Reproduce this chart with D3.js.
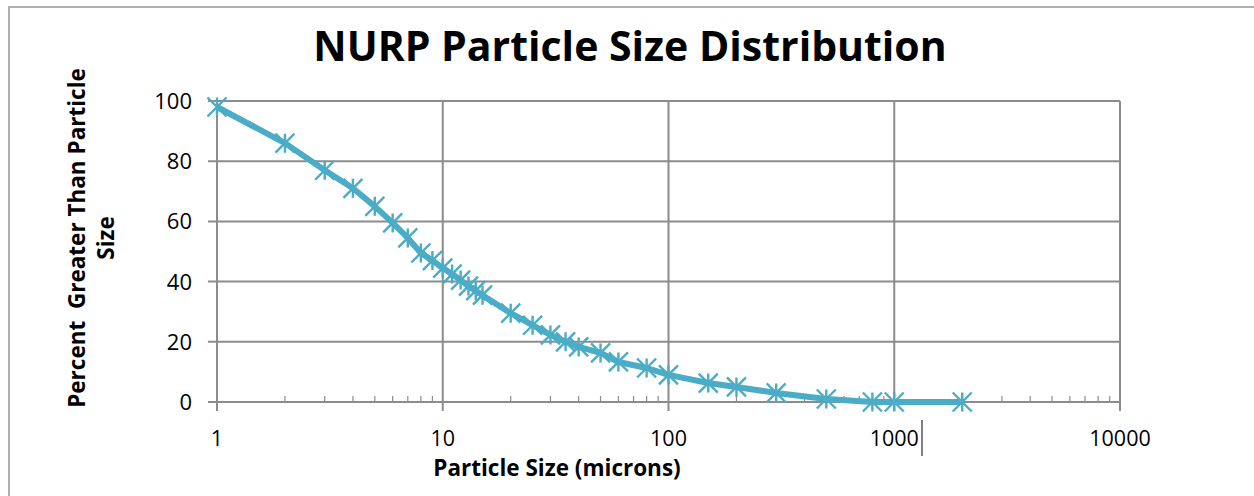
<!DOCTYPE html>
<html>
<head>
<meta charset="utf-8">
<script src="https://cdn.jsdelivr.net/npm/d3@7"></script>
<style>
  body { margin: 0; background: #fff; }
  svg { display: block; }
  text { font-family: "Open Sans", Lato, sans-serif; fill: #000; }
</style>
</head>
<body>
<svg id="chart" width="1254" height="496"></svg>
<script>
// particle size (microns) vs percent greater than that size
var sizes = [1, 2, 3, 4, 5, 6, 7, 8, 9, 10, 11, 12, 13, 14, 15, 20, 25, 30, 35, 40, 50, 60, 80, 100, 150, 200, 300, 500, 800, 1000, 2000];
var percents = [98, 86, 77, 71, 65, 59.5, 54.5, 49.5, 47, 44.5, 42.5, 40.5, 38.5, 37, 35.5, 29.5, 25.5, 22.3, 20, 18.3, 16.3, 13.3, 11.3, 9, 6.3, 5, 3, 1, 0, 0, 0];
var xTicks = [1, 10, 100, 1000, 10000];
var yTicks = [0, 20, 40, 60, 80, 100];

var svg = d3.select('#chart');
var plotL = 217, plotR = 1120, plotT = 101, plotB = 402;
var teal = '#4bacc6', grid = '#8c8c8c';

var x = d3.scaleLog().domain([1, 10000]).range([plotL, plotR]);
var y = d3.scaleLinear().domain([0, 100]).range([plotB, plotT]);

// outer frame (only top and left visible)
svg.append('path')
  .attr('d', 'M9,496V7H1254')
  .attr('fill', 'none')
  .attr('stroke', '#b0b0b0')
  .attr('stroke-width', 2);

svg.append('text')
  .attr('x', 630)
  .attr('y', 61)
  .attr('text-anchor', 'middle')
  .style('font-size', '41px')
  .style('font-weight', 'bold')
  .text('NURP Particle Size Distribution');

// horizontal gridlines, sticking out left like ticks
svg.append('g')
  .selectAll('line')
  .data(yTicks)
  .enter()
  .append('line')
  .attr('x1', plotL - 9)
  .attr('x2', plotR)
  .attr('y1', function(d) { return y(d); })
  .attr('y2', function(d) { return y(d); })
  .attr('stroke', grid)
  .attr('stroke-width', 2);

// vertical gridlines at each decade
svg.append('g')
  .selectAll('line')
  .data(xTicks)
  .enter()
  .append('line')
  .attr('x1', function(d) { return x(d); })
  .attr('x2', function(d) { return x(d); })
  .attr('y1', plotT)
  .attr('y2', plotB + 9)
  .attr('stroke', grid)
  .attr('stroke-width', 2);

// minor ticks pointing up from the axis
var minor = x.ticks().filter(function(d) { return xTicks.indexOf(d) < 0; });
svg.append('g')
  .selectAll('line')
  .data(minor)
  .enter()
  .append('line')
  .attr('x1', function(d) { return x(d); })
  .attr('x2', function(d) { return x(d); })
  .attr('y1', plotB)
  .attr('y2', plotB - 6)
  .attr('stroke', grid)
  .attr('stroke-width', 1.2);

svg.append('g')
  .selectAll('text')
  .data(yTicks)
  .enter()
  .append('text')
  .attr('x', 192)
  .attr('y', function(d) { return y(d) + 8; })
  .attr('text-anchor', 'end')
  .style('font-size', '22px')
  .text(function(d) { return d; });

svg.append('g')
  .selectAll('text')
  .data(xTicks)
  .enter()
  .append('text')
  .attr('x', function(d) { return x(d); })
  .attr('y', 446)
  .attr('text-anchor', 'middle')
  .style('font-size', '21.5px')
  .text(function(d) { return d; });

svg.append('text')
  .attr('x', 557)
  .attr('y', 476)
  .attr('text-anchor', 'middle')
  .style('font-size', '22.5px')
  .style('font-weight', 'bold')
  .text('Particle Size (microns)');

var yTitle = svg.append('text')
  .attr('transform', 'translate(85,238) rotate(-90)')
  .attr('text-anchor', 'middle')
  .style('font-size', '22.5px')
  .style('font-weight', 'bold');
yTitle.append('tspan').attr('x', 0).attr('dy', 0).attr('xml:space', 'preserve').text('Percent  Greater Than Particle');
yTitle.append('tspan').attr('x', 0).attr('dy', 29).text('Size');

var pts = sizes.map(function(s, i) { return [s, percents[i]]; });

var line = d3.line()
  .x(function(d) { return x(d[0]); })
  .y(function(d) { return y(d[1]); });

svg.append('path')
  .datum(pts)
  .attr('d', line)
  .attr('fill', 'none')
  .attr('stroke', teal)
  .attr('stroke-width', 6)
  .attr('stroke-linejoin', 'round');

// asterisk markers
var r = 9.5;
svg.append('g')
  .selectAll('path')
  .data(pts)
  .enter()
  .append('path')
  .attr('transform', function(d) { return 'translate(' + x(d[0]) + ',' + y(d[1]) + ')'; })
  .attr('d', 'M' + -r + ',' + -r + 'L' + r + ',' + r + 'M' + -r + ',' + r + 'L' + r + ',' + -r + 'M0,' + -r + 'V' + r)
  .attr('stroke', teal)
  .attr('stroke-width', 2.4)
  .attr('fill', 'none');

// text cursor left in the screenshot after "1000"
svg.append('line')
  .attr('x1', 922).attr('x2', 922)
  .attr('y1', 420).attr('y2', 456)
  .attr('stroke', '#000')
  .attr('stroke-width', 1);
</script>
</body>
</html>
